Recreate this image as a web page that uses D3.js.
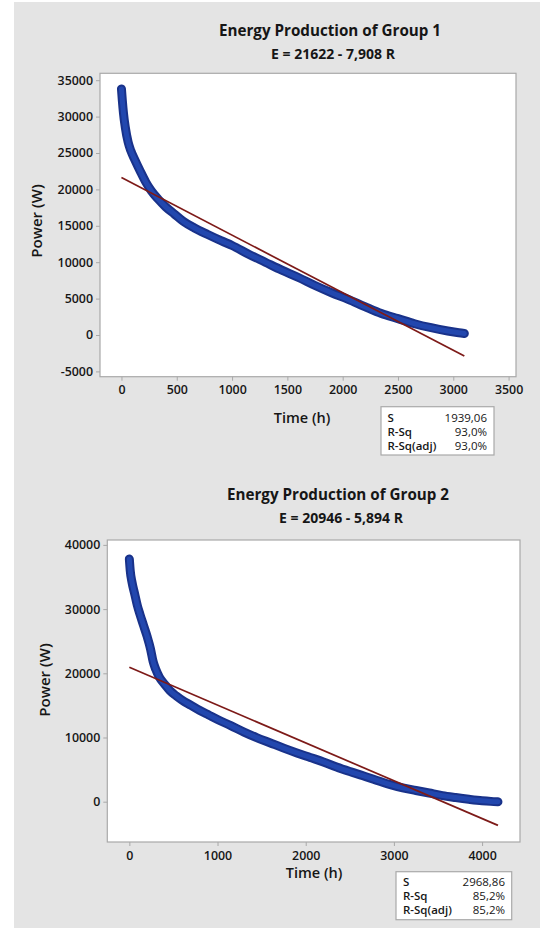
<!DOCTYPE html>
<html>
<head>
<meta charset="utf-8">
<script src="https://cdn.jsdelivr.net/npm/d3@7"></script>
<style>
  html, body { margin: 0; padding: 0; background: #ffffff; }
  svg { display: block; }
</style>
</head>
<body>
<svg id="chart" width="540" height="929"></svg>
<script>
// ---------------- DATA ----------------
// Group 1
const g1Title = "Energy Production of Group 1";
const g1Equation = "E = 21622 - 7,908 R";
const g1Time  = [0, 8, 18, 35, 60, 85, 120, 170, 220, 270, 330, 400, 480, 560, 660, 780, 900, 1000, 1150, 1300, 1450, 1600, 1750, 1900, 2050, 2200, 2350, 2500, 2650, 2800, 2950, 3050, 3100];
const g1Power = [33800, 32200, 30500, 28500, 26500, 25300, 24100, 22500, 21000, 19800, 18700, 17600, 16600, 15600, 14700, 13800, 12950, 12300, 11100, 10000, 8900, 7900, 6800, 5800, 4900, 3900, 2950, 2250, 1550, 1000, 550, 300, 200];
const g1Fit = [21622, -7.908];           // intercept, slope
const g1XTicks = [0, 500, 1000, 1500, 2000, 2500, 3000, 3500];
const g1YTicks = [-5000, 0, 5000, 10000, 15000, 20000, 25000, 30000, 35000];
const g1StatLabels = ["S", "R-Sq", "R-Sq(adj)"];
const g1StatValues = ["1939,06", "93,0%", "93,0%"];

// Group 2
const g2Title = "Energy Production of Group 2";
const g2Equation = "E = 20946 - 5,894 R";
const g2Time  = [0, 10, 30, 60, 90, 120, 160, 200, 240, 270, 300, 340, 400, 460, 530, 600, 700, 800, 900, 1000, 1150, 1300, 1450, 1600, 1750, 1900, 2050, 2200, 2350, 2500, 2650, 2800, 2950, 3100, 3250, 3400, 3550, 3700, 3850, 4000, 4100, 4180];
const g2Power = [37800, 36000, 34200, 32400, 30600, 29200, 27500, 25800, 23800, 21800, 20600, 19400, 18300, 17300, 16500, 15800, 15000, 14200, 13500, 12800, 11850, 10850, 9950, 9150, 8350, 7600, 6900, 6200, 5400, 4700, 4050, 3350, 2700, 2150, 1750, 1350, 950, 650, 380, 150, 50, 0];
const g2Fit = [20946, -5.894];
const g2XTicks = [0, 1000, 2000, 3000, 4000];
const g2YTicks = [0, 10000, 20000, 30000, 40000];
const g2StatLabels = ["S", "R-Sq", "R-Sq(adj)"];
const g2StatValues = ["2968,86", "85,2%", "85,2%"];

const xLabel = "Time (h)";
const yLabel = "Power (W)";

// ---------------- DRAWING ----------------
const svg = d3.select("#chart");
const FONT = "'Open Sans', 'Noto Sans', sans-serif";
const TEXT = "#161616";
const FRAME = "#a9a9a9";

// grey graph window
svg.append("rect").attr("x", 14).attr("y", 2).attr("width", 526).attr("height", 926).attr("fill", "#e4e4e4");

function drawChart(cfg) {
  const x = d3.scaleLinear().domain(cfg.xDomain).range([cfg.left, cfg.right]);
  const y = d3.scaleLinear().domain(cfg.yDomain).range([cfg.bottom, cfg.top]);
  const g = svg.append("g");

  // titles
  g.append("text").attr("x", cfg.titleX).attr("y", cfg.titleY)
    .attr("text-anchor", "middle").attr("font-family", FONT).attr("font-weight", 700)
    .attr("font-size", 15.2).attr("fill", TEXT).text(cfg.title);
  g.append("text").attr("x", cfg.subX).attr("y", cfg.subY)
    .attr("text-anchor", "middle").attr("font-family", FONT).attr("font-weight", 700)
    .attr("font-size", 14).attr("fill", TEXT).text(cfg.equation);

  // plot area
  g.append("rect").attr("x", cfg.left).attr("y", cfg.top)
    .attr("width", cfg.right - cfg.left).attr("height", cfg.bottom - cfg.top)
    .attr("fill", "#ffffff").attr("stroke", FRAME).attr("stroke-width", 1.2);

  // axes
  const fmt = d => String(d);
  const xAxis = d3.axisBottom(x).tickValues(cfg.xTicks).tickSize(4).tickSizeOuter(0).tickPadding(5).tickFormat(fmt);
  const yAxis = d3.axisLeft(y).tickValues(cfg.yTicks).tickSize(4).tickSizeOuter(0).tickPadding(3).tickFormat(fmt);
  const gx = g.append("g").attr("transform", `translate(0,${cfg.bottom})`).call(xAxis);
  const gy = g.append("g").attr("transform", `translate(${cfg.left},0)`).call(yAxis);
  [gx, gy].forEach(a => {
    a.select(".domain").remove();
    a.selectAll(".tick line").attr("stroke", FRAME);
    a.selectAll(".tick text").attr("font-family", FONT).attr("font-weight", 600)
      .attr("font-size", 12.4).attr("fill", TEXT);
  });

  // axis labels
  g.append("text").attr("x", cfg.xLabelX).attr("y", cfg.xLabelY)
    .attr("text-anchor", "middle").attr("font-family", FONT).attr("font-weight", 600)
    .attr("font-size", 14.5).attr("fill", TEXT).text(xLabel);
  g.append("text").attr("transform", `translate(${cfg.yLabelX},${cfg.yLabelY}) rotate(-90)`)
    .attr("text-anchor", "middle").attr("font-family", FONT).attr("font-weight", 600)
    .attr("font-size", 15).attr("fill", TEXT).text(yLabel);

  g.append("clipPath").attr("id", cfg.id + "clip")
    .append("rect").attr("x", cfg.left).attr("y", cfg.top)
    .attr("width", cfg.right - cfg.left).attr("height", cfg.bottom - cfg.top);
  const plot = g.append("g").attr("clip-path", `url(#${cfg.id}clip)`);

  // data band (scatter of many points)
  const pts = cfg.time.map((t, i) => [t, cfg.power[i]]);
  const line = d3.line().x(d => x(d[0])).y(d => y(d[1])).curve(d3.curveMonotoneX);
  plot.append("path").attr("d", line(pts)).attr("fill", "none")
    .attr("stroke", "#19328a").attr("stroke-width", 9).attr("stroke-linecap", "round").attr("stroke-linejoin", "round");
  plot.append("path").attr("d", line(pts)).attr("fill", "none")
    .attr("stroke", "#2247ae").attr("stroke-width", 5).attr("stroke-linecap", "round").attr("stroke-linejoin", "round");

  // fitted regression line
  const tMax = d3.max(cfg.time);
  const fitPts = [0, tMax].map(t => [t, cfg.fit[0] + cfg.fit[1] * t]);
  plot.append("path").attr("d", d3.line().x(d => x(d[0])).y(d => y(d[1]))(fitPts))
    .attr("fill", "none").attr("stroke", "#7d1a18").attr("stroke-width", 1.7);

  // stats box
  const sb = cfg.stats;
  g.append("rect").attr("x", sb.x0).attr("y", sb.y0).attr("width", sb.x1 - sb.x0).attr("height", sb.y1 - sb.y0)
    .attr("fill", "#ffffff").attr("stroke", FRAME).attr("stroke-width", 1.2);
  cfg.statLabels.forEach((lab, i) => {
    g.append("text").attr("x", sb.tx0).attr("y", sb.rows[i])
      .attr("font-family", FONT).attr("font-weight", 600).attr("font-size", 11.5).attr("fill", TEXT).text(lab);
    g.append("text").attr("x", sb.tx1).attr("y", sb.rows[i]).attr("text-anchor", "end")
      .attr("font-family", FONT).attr("font-weight", 400).attr("font-size", 11.5).attr("fill", TEXT).text(cfg.statValues[i]);
  });
}

drawChart({
  id: "g1", title: g1Title, equation: g1Equation,
  time: g1Time, power: g1Power, fit: g1Fit, xTicks: g1XTicks, yTicks: g1YTicks,
  statLabels: g1StatLabels, statValues: g1StatValues,
  left: 100, right: 516, top: 73.3, bottom: 376.7,
  xDomain: [-194, 3567], yDomain: [-5728, 35948],
  titleX: 330, titleY: 36, subX: 333, subY: 59,
  xLabelX: 302, xLabelY: 423, yLabelX: 42, yLabelY: 221,
  stats: { x0: 381, x1: 494, y0: 406.7, y1: 455, tx0: 387.5, tx1: 487, rows: [421.5, 435.5, 449.5] }
});

drawChart({
  id: "g2", title: g2Title, equation: g2Equation,
  time: g2Time, power: g2Power, fit: g2Fit, xTicks: g2XTicks, yTicks: g2YTicks,
  statLabels: g2StatLabels, statValues: g2StatValues,
  left: 107.3, right: 520, top: 540, bottom: 842,
  xDomain: [-250, 4430], yDomain: [-6277, 40763],
  titleX: 338, titleY: 500, subX: 341, subY: 523,
  xLabelX: 314, xLabelY: 878, yLabelX: 50, yLabelY: 680,
  stats: { x0: 396, x1: 511.7, y0: 871.7, y1: 919.7, tx0: 403, tx1: 505, rows: [886, 900, 914] }
});
</script>
</body>
</html>
